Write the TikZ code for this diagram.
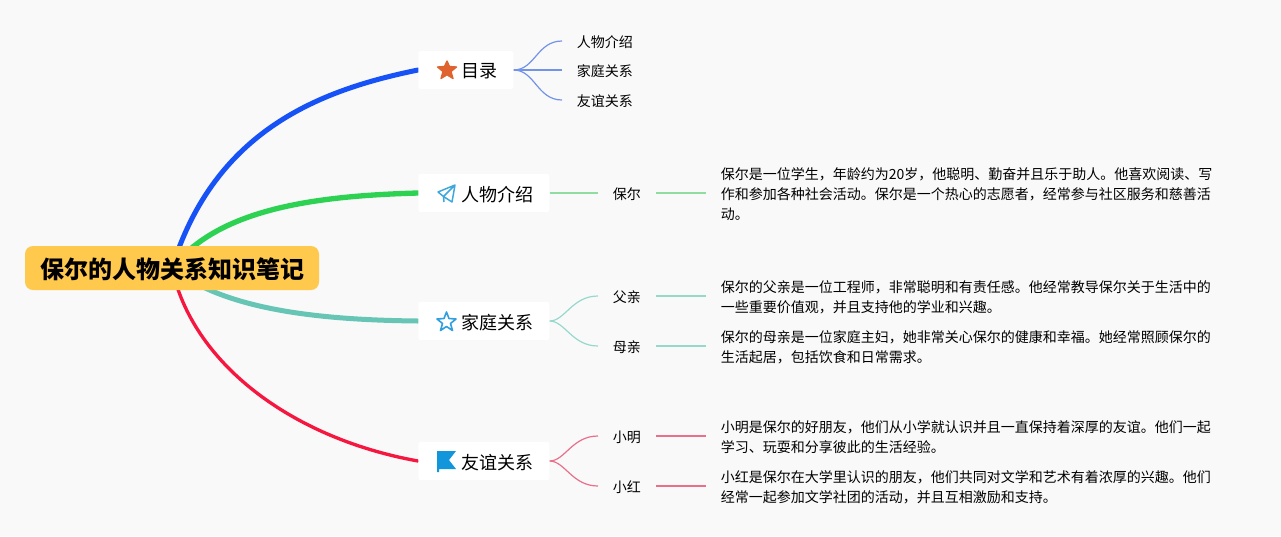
\documentclass[tikz,border=0pt]{standalone}
\usepackage{fontspec}
\setmainfont{Noto Sans CJK SC}
\usetikzlibrary{backgrounds}
\definecolor{bgc}{HTML}{F9F9FA}
\definecolor{rootc}{HTML}{FFC94D}
\definecolor{cblue}{HTML}{1652F5}
\definecolor{cgreen}{HTML}{2ED253}
\definecolor{cteal}{HTML}{67C5B5}
\definecolor{cred}{HTML}{F5173F}
\definecolor{lblue}{HTML}{7394E6}
\definecolor{lgreen}{HTML}{8FDDA0}
\definecolor{lteal}{HTML}{98D8CB}
\definecolor{lred}{HTML}{E8708A}
\definecolor{iconorange}{HTML}{E0622F}
\definecolor{iconplane}{HTML}{3EA8DC}
\definecolor{iconstar}{HTML}{2F9FE0}
\definecolor{iconflag}{HTML}{1296DB}
\newcommand{\spx}[1]{\hspace*{#1\dimexpr0.75pt\relax}}
\newcommand{\dn}[2]{\raisebox{-#1\dimexpr0.75pt\relax}[\height][\depth]{#2}}
\tikzset{
  rootbox/.style={fill=rootc,rounded corners=6pt,minimum width=220.5pt,minimum height=33pt,inner sep=0pt,font=\fontsize{18}{22}\selectfont\bfseries},
  branchbox/.style={anchor=west,fill=white,rounded corners=1.5pt,minimum height=28.5pt,inner xsep=12pt,inner ysep=0pt,font=\fontsize{13.5}{16}\selectfont},
  leafbox/.style={anchor=west,inner xsep=11pt,inner ysep=2pt,font=\fontsize{10.5}{13}\selectfont},
  parabox/.style={anchor=west,align=left,inner xsep=10.9pt,inner ysep=0pt,font=\fontsize{10.5}{15}\selectfont},
  mainline/.style={line width=3.75pt,line cap=round},
  subline/.style={line width=0.9pt},
  straightline/.style={line width=0.9pt},
  x=0.75pt,y=-0.75pt
}
\begin{document}
\begin{tikzpicture}
\useasboundingbox (0,0) rectangle (1281,536);
\node[rootbox] (root) at (172,268) {\dn{1}{保尔的人物关系知识笔记}};
\node[branchbox] (b1) at (418,70) {\spx{27}\dn{1.5}{目录}};
\node[branchbox] (b2) at (418,193) {\spx{27}\dn{1.5}{人物介绍}};
\node[branchbox] (b3) at (418,321) {\spx{27}\dn{1.5}{家庭关系}};
\node[branchbox] (b4) at (418,461) {\spx{27}\dn{1.5}{友谊关系}};
\node[leafbox] (l11) at (562,41) {\dn{1}{人物介绍}};
\node[leafbox] (l12) at (562,70) {\dn{1}{家庭关系}};
\node[leafbox] (l13) at (562,100) {\dn{1}{友谊关系}};
\node[leafbox] (l21) at (598,193) {\dn{1}{保尔}};
\node[leafbox] (l31) at (598,296) {\dn{1}{父亲}};
\node[leafbox] (l32) at (598,346) {\dn{1}{母亲}};
\node[leafbox] (l41) at (598,436) {\dn{1}{小明}};
\node[leafbox] (l42) at (598,486) {\dn{1}{小红}};
\node[parabox] (p21) at (706,194) {保尔是一位学生，年龄约为20岁，他聪明、勤奋并且乐于助人。他喜欢阅读、写\\作和参加各种社会活动。保尔是一个热心的志愿者，经常参与社区服务和慈善活\\动。};
\node[parabox] (p31) at (706,297) {保尔的父亲是一位工程师，非常聪明和有责任感。他经常教导保尔关于生活中的\\一些重要价值观，并且支持他的学业和兴趣。};
\node[parabox] (p32) at (706,347) {保尔的母亲是一位家庭主妇，她非常关心保尔的健康和幸福。她经常照顾保尔的\\生活起居，包括饮食和日常需求。};
\node[parabox] (p41) at (706,437) {小明是保尔的好朋友，他们从小学就认识并且一直保持着深厚的友谊。他们一起\\学习、玩耍和分享彼此的生活经验。};
\node[parabox] (p42) at (706,487) {小红是保尔在大学里认识的朋友，他们共同对文学和艺术有着浓厚的兴趣。他们\\经常一起参加文学社团的活动，并且互相激励和支持。};
% icons
\filldraw[fill=iconorange,draw=iconorange,line width=1pt,line join=round] (447,61) -- (449.5,66.5) -- (456.5,67) -- (451,71.5) -- (453,78.5) -- (447,74.8) -- (441,78.5) -- (443,71.5) -- (437.5,67) -- (444.5,66.5) -- cycle;
\draw[iconplane,line width=1.1pt,line join=round] (455,185) -- (438,192) -- (443.5,196.5) -- (452,202) -- cycle (455,185) -- (443.5,196.5) -- (444,202);
\draw[iconstar,line width=1.2pt,line join=round] (446.5,312) -- (449,318.5) -- (456,319) -- (450.5,323.5) -- (452.5,330.5) -- (446.5,326.5) -- (440.5,330.5) -- (442.5,323.5) -- (437,319) -- (444,318.5) -- cycle;
\fill[iconflag] (437,451) -- (456,451) -- (449,460) -- (456,469) -- (439,469) -- (439,472) -- (437,472) -- cycle;
\begin{scope}[on background layer]
\fill[bgc] (0,0) rectangle (1281,536);
\draw[mainline,cblue] (root.center) .. controls (215,130) and (320,90) .. (b1.west);
\draw[mainline,cgreen,line width=4pt] (root.center) .. controls (218,210) and (310,196) .. (b2.west);
\draw[mainline,cteal] (root.center) .. controls (225,310) and (320,320) .. (b3.west);
\draw[cred,line width=2.5pt,line cap=round] (root.center) .. controls (192,362) and (290,438) .. (b4.west);
\draw[subline,lblue] (b1.east) .. controls (535,70) and (537,41) .. (l11.west);
\draw[straightline,lblue,line width=1.4pt] (b1.east) -- (l12.west);
\draw[subline,lblue] (b1.east) .. controls (535,70) and (537,100) .. (l13.west);
\draw[straightline,lgreen,line width=1.2pt] (b2.east) -- (l21.west);
\draw[straightline,lgreen,line width=1.2pt] (l21.east) -- (l21.east -| p21.west);
\draw[subline,lteal] (b3.east) .. controls (565,321) and (572,296) .. (l31.west);
\draw[subline,lteal] (b3.east) .. controls (565,321) and (572,346) .. (l32.west);
\draw[straightline,lteal,line width=1.2pt] (l31.east) -- (l31.east -| p31.west);
\draw[straightline,lteal,line width=1.2pt] (l32.east) -- (l32.east -| p32.west);
\draw[subline,lred] (b4.east) .. controls (565,461) and (572,436) .. (l41.west);
\draw[subline,lred] (b4.east) .. controls (565,461) and (572,486) .. (l42.west);
\draw[straightline,lred,line width=1.2pt] (l41.east) -- (l41.east -| p41.west);
\draw[straightline,lred,line width=1.2pt] (l42.east) -- (l42.east -| p42.west);
\end{scope}
\end{tikzpicture}
\end{document}
